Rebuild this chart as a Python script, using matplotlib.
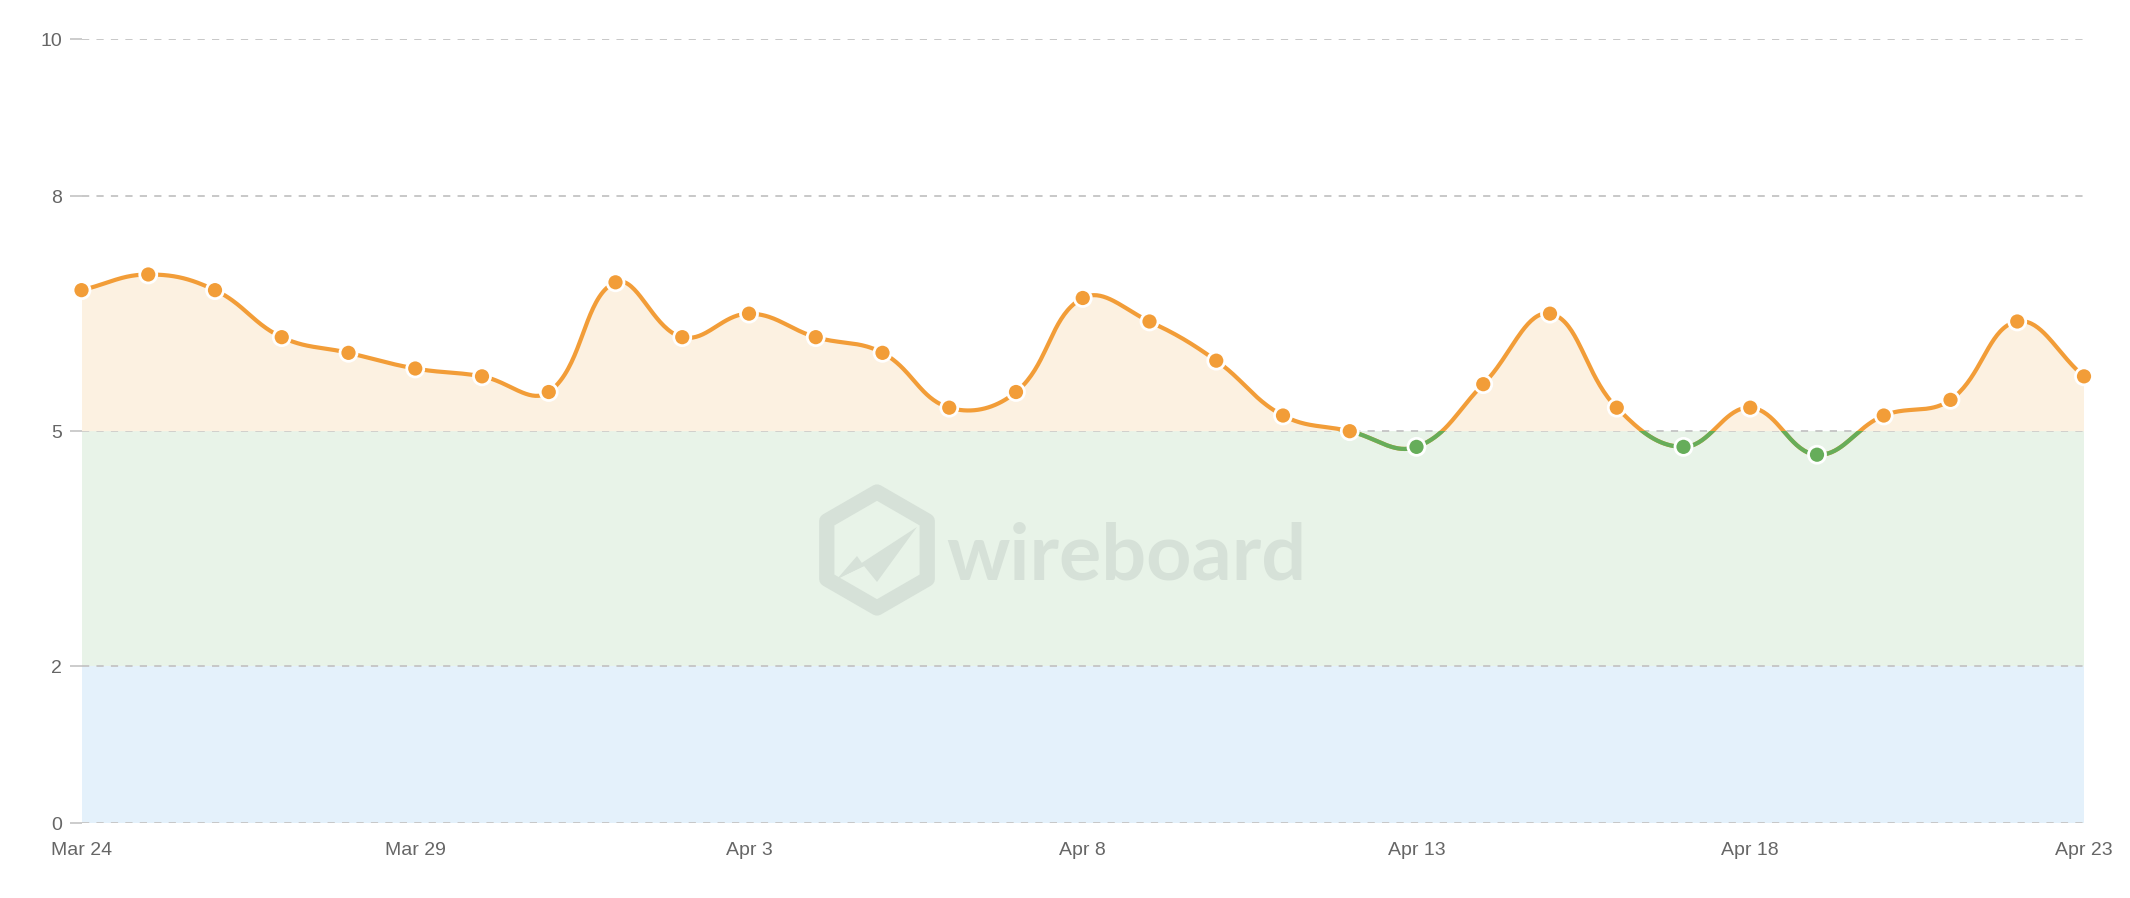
import numpy as np
import matplotlib.pyplot as plt
from matplotlib.patches import RegularPolygon, Polygon, Rectangle

# daily values, Mar 24 .. Apr 23
days = np.arange(31)
values = [6.8, 7.0, 6.8, 6.2, 6.0, 5.8, 5.7, 5.5, 6.9, 6.2, 6.5, 6.2, 6.0, 5.3, 5.5,
          6.7, 6.4, 5.9, 5.2, 5.0, 4.8, 5.6, 6.5, 5.3, 4.8, 5.3, 4.7, 5.2, 5.4, 6.4, 5.7]
tick_days = [0, 5, 10, 15, 20, 25, 30]
tick_labels = ['Mar 24', 'Mar 29', 'Apr 3', 'Apr 8', 'Apr 13', 'Apr 18', 'Apr 23']
y_ticks = [0, 2, 5, 8, 10]
threshold = 5
band_edges = [0, 2, 5]
band_colors = ['#e4f1fb', '#e8f3e8']

orange = '#f29d38'
green = '#66ad5a'

plt.rcParams['font.family'] = ['Liberation Sans Narrow', 'Liberation Sans', 'DejaVu Sans']


def spline(x, y, t=0.4, sx=66.7, sy=78.4, n=40):
    # chart.js style bezier through the points (distances in pixel units)
    x = np.asarray(x, float)
    y = np.asarray(y, float)
    N = len(x)
    cpl = np.zeros((N, 2))
    cpr = np.zeros((N, 2))
    for i in range(N):
        a, b = max(i - 1, 0), min(i + 1, N - 1)
        d01 = np.hypot((x[i] - x[a]) * sx, (y[i] - y[a]) * sy)
        d12 = np.hypot((x[b] - x[i]) * sx, (y[b] - y[i]) * sy)
        tot = d01 + d12
        s01 = d01 / tot if tot else 0
        s12 = d12 / tot if tot else 0
        dx, dy = x[b] - x[a], y[b] - y[a]
        cpl[i] = (x[i] - t * s01 * dx, y[i] - t * s01 * dy)
        cpr[i] = (x[i] + t * s12 * dx, y[i] + t * s12 * dy)
    xs, ys = [], []
    u = np.linspace(0, 1, n)
    for i in range(N - 1):
        p0 = np.array([x[i], y[i]])
        p3 = np.array([x[i + 1], y[i + 1]])
        p1, p2 = cpr[i], cpl[i + 1]
        pts = ((1 - u) ** 3)[:, None] * p0 + (3 * (1 - u) ** 2 * u)[:, None] * p1 \
            + (3 * (1 - u) * u ** 2)[:, None] * p2 + (u ** 3)[:, None] * p3
        xs.append(pts[:, 0])
        ys.append(pts[:, 1])
    return np.concatenate(xs), np.concatenate(ys)


fig = plt.figure(figsize=(21.3, 8.98), dpi=100)
ax = fig.add_axes([81.5 / 2130, 1 - 823 / 898, (2084 - 81.5) / 2130, (823 - 39.4) / 898])

for lo, hi, c in zip(band_edges[:-1], band_edges[1:], band_colors):
    ax.axhspan(lo, hi, color=c, lw=0, zorder=0.2)

ax.set_axisbelow(True)
ax.grid(axis='y', color='#c4c4c4', lw=1.3, ls=(0, (4, 4)))
ax.grid(axis='x', visible=False)

xs, ys = spline(days, values)
ax.fill_between(xs, threshold, ys, where=ys >= threshold, interpolate=True,
                color='#fcf1e1', lw=0, zorder=1)

ax.plot(xs, ys, color=orange, lw=3, zorder=3, solid_capstyle='round')
low, = ax.plot(xs, ys, color=green, lw=3, zorder=3.1)
low.set_clip_path(Rectangle((-1, -1), 32, threshold + 1, transform=ax.transData))

pt_colors = [green if v < threshold else orange for v in values]
ax.scatter(days, values, s=150, c=pt_colors, edgecolors='white', linewidths=2, zorder=4, clip_on=False)

ax.set_xlim(0, 30)
ax.set_ylim(0, 10)
ax.set_xticks(tick_days)
ax.set_xticklabels(tick_labels)
ax.set_yticks(y_ticks)
ax.tick_params(axis='x', length=0, pad=14, labelsize=14, labelcolor='#666666')
ax.tick_params(axis='y', length=9, width=1.2, color='#c4c4c4', pad=5, labelsize=14, labelcolor='#666666')
for s in ax.spines.values():
    s.set_visible(False)

# watermark
wm = '#d6e1d8'
tr = fig.dpi_scale_trans
H = 898
fig.patches.append(RegularPolygon((877 / 100, (H - 550) / 100), 6, radius=0.58, orientation=0,
                                  fill=False, edgecolor=wm, lw=11, joinstyle='round', transform=tr, zorder=2))
fig.patches.append(Polygon([(837 / 100, (H - 579) / 100), (857 / 100, (H - 556) / 100), (864 / 100, (H - 566) / 100)],
                           closed=True, color=wm, lw=0, transform=tr))
fig.patches.append(Polygon([(837 / 100, (H - 579) / 100), (917 / 100, (H - 527) / 100), (877 / 100, (H - 582) / 100),
                            (864 / 100, (H - 566) / 100)], closed=True, color=wm, lw=0, transform=tr))
fig.text(946 / 2130, 1 - 579 / 898, 'wireboard', fontsize=57, color=wm, fontweight='bold',
         family=['Lato', 'DejaVu Sans'], ha='left', va='baseline')

fig.savefig('out.png', dpi=100, facecolor='white')
